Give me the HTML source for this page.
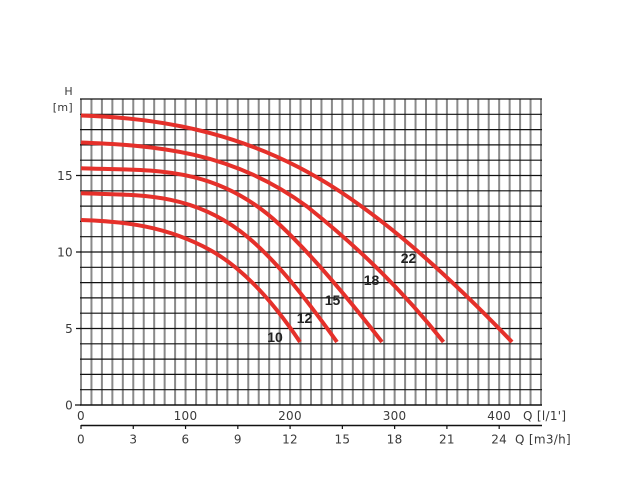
<!DOCTYPE html>
<html>
<head>
<meta charset="utf-8">
<style>
html,body{margin:0;padding:0;background:#fff;}
svg{display:block;}
.t{font-family:"DejaVu Sans","Liberation Sans",sans-serif;font-size:12px;fill:#3a3a3a;letter-spacing:0.3px;}
.b{font-family:"Liberation Sans",sans-serif;font-size:14px;font-weight:bold;fill:#222;}
</style>
</head>
<body>
<svg width="620" height="503" viewBox="0 0 620 503" xmlns="http://www.w3.org/2000/svg">
<rect width="620" height="503" fill="#fff"/>
<!-- vertical grid -->
<path stroke="#8a8a8a" stroke-width="2" fill="none" d="M81 99V405M91.45 99V405M101.91 99V405M112.36 99V405M122.82 99V405M133.27 99V405M143.73 99V405M154.18 99V405M164.64 99V405M175.09 99V405M185.55 99V405M196 99V405M206.45 99V405M216.91 99V405M227.36 99V405M237.82 99V405M248.27 99V405M258.73 99V405M269.18 99V405M279.64 99V405M290.09 99V405M300.55 99V405M311 99V405M321.45 99V405M331.91 99V405M342.36 99V405M352.82 99V405M363.27 99V405M373.73 99V405M384.18 99V405M394.64 99V405M405.09 99V405M415.55 99V405M426 99V405M436.45 99V405M446.91 99V405M457.36 99V405M467.82 99V405M478.27 99V405M488.73 99V405M499.18 99V405M509.64 99V405M520.09 99V405M530.55 99V405M541 99V405"/>
<!-- horizontal grid -->
<path stroke="#111" stroke-width="1.2" fill="none" d="M80 99H542M80 114.3H542M80 129.6H542M80 144.9H542M80 160.2H542M80 175.5H542M80 190.8H542M80 206.1H542M80 221.4H542M80 236.7H542M80 252H542M80 267.3H542M80 282.6H542M80 297.9H542M80 313.2H542M80 328.5H542M80 343.8H542M80 359.1H542M80 374.4H542M80 389.7H542"/>
<path stroke="#111" stroke-width="1.6" fill="none" d="M80 405H542"/>
<!-- y ticks -->
<path stroke="#111" stroke-width="1.2" d="M75 405H81M76 328.5H81M76 252H81M76 175.5H81"/>
<text class="t" x="73" y="409.5" text-anchor="end">0</text>
<text class="t" x="73" y="333" text-anchor="end">5</text>
<text class="t" x="73" y="256.5" text-anchor="end">10</text>
<text class="t" x="73" y="180" text-anchor="end">15</text>
<text class="t" x="73" y="95" text-anchor="end" style="font-size:11px">H</text>
<text class="t" x="73" y="111" text-anchor="end" style="font-size:11px">[m]</text>
<!-- x axis 1 labels -->
<text class="t" x="81" y="420" text-anchor="middle">0</text>
<text class="t" x="185.5" y="420" text-anchor="middle">100</text>
<text class="t" x="290" y="420" text-anchor="middle">200</text>
<text class="t" x="394.6" y="420" text-anchor="middle">300</text>
<text class="t" x="499.2" y="420" text-anchor="middle">400</text>
<text class="t" x="523" y="420">Q [l/1']</text>
<!-- x axis 2 -->
<path stroke="#111" stroke-width="1.4" fill="none" d="M81 425.5H542"/>
<path stroke="#111" stroke-width="1.2" d="M81 425V429M133.27 425V429M185.55 425V429M237.82 425V429M290.09 425V429M342.36 425V429M394.64 425V429M446.91 425V429M499.18 425V429"/>
<text class="t" x="81" y="443.5" text-anchor="middle">0</text>
<text class="t" x="133.3" y="443.5" text-anchor="middle">3</text>
<text class="t" x="185.5" y="443.5" text-anchor="middle">6</text>
<text class="t" x="237.8" y="443.5" text-anchor="middle">9</text>
<text class="t" x="290" y="443.5" text-anchor="middle">12</text>
<text class="t" x="342.4" y="443.5" text-anchor="middle">15</text>
<text class="t" x="394.6" y="443.5" text-anchor="middle">18</text>
<text class="t" x="446.9" y="443.5" text-anchor="middle">21</text>
<text class="t" x="499.2" y="443.5" text-anchor="middle">24</text>
<text class="t" x="515" y="443.5">Q [m3/h]</text>
<!-- curves -->
<g fill="none" stroke="#e5302a" stroke-width="4" stroke-linejoin="round" stroke-linecap="butt">
<path d="M81 115.5C167 118 254 134.7 340 191.5C397 229.1 455 282.2 512 342"/>
<path d="M81 142.5C156 145.5 232 151 307 206.5C352.5 242.9 398 284.7 443.5 342"/>
<path d="M81 168.3C147.3 171 213.7 162.7 280 225C314 257 348 298.1 382 342"/>
<path d="M81 193.3C134 195.4 187 191.25 240 231C272.3 255.2 304.7 296.8 337 342"/>
<path d="M81 220C124 221.3 167 226.3 210 250C240 266.5 270 297 300 342"/>
</g>
<!-- curve labels -->
<text class="b" x="275" y="342" text-anchor="middle">10</text>
<text class="b" x="304.5" y="323" text-anchor="middle">12</text>
<text class="b" x="332.5" y="305" text-anchor="middle">15</text>
<text class="b" x="371.5" y="285" text-anchor="middle">18</text>
<text class="b" x="408.5" y="263" text-anchor="middle">22</text>
</svg>
</body>
</html>
